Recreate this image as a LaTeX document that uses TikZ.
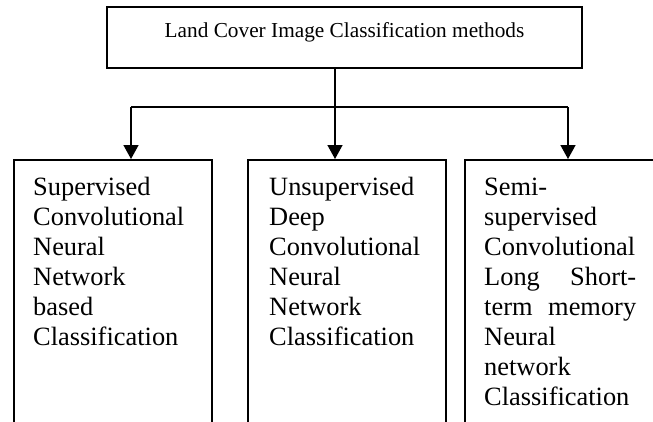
\documentclass[tikz,border=0pt]{standalone}
\usepackage{fontspec}
\setmainfont{Liberation Serif}
\usetikzlibrary{arrows.meta}

\begin{document}
\begin{tikzpicture}[x=1pt,y=-1pt,
  topbox/.style={draw,line width=1.5pt,minimum width=475pt,minimum height=61pt,
                 inner sep=0pt,text height=15pt,text depth=16pt,
                 font=\fontsize{21.3}{25}\selectfont},
  catbox/.style={draw,line width=1.5pt,anchor=north west,minimum width=198pt,
                 minimum height=280pt,inner sep=0pt},
  cattext/.style={anchor=base west,inner sep=0pt,text width=152pt,align=left,
                  font=\fontsize{26.4}{30}\selectfont},
  arr/.style={-{Triangle[length=14pt,width=15pt]},line width=1.5pt},
  conn/.style={line width=1.5pt}
]
\clip (0,0) rectangle (653,421);

% Top block
\node[topbox] (top) at (344.5,37.5) {Land Cover Image Classification methods};

% Category blocks, cut off at the lower edge
\node[catbox] (sup)  at (13,159)  {};
\node[catbox] (uns)  at (247,159) {};
\node[catbox] (semi) at (464,159) {};

\node[cattext] (suptxt)  at (33,195)  {Supervised\\Convolutional\\Neural\\Network\\based\\Classification};
\node[cattext] (unstxt)  at (269,195) {Unsupervised\\Deep\\Convolutional\\Neural\\Network\\Classification};
\node[cattext] (semitxt) at (484,195) {Semi-\\supervised\\Convolutional\\Long\hfill Short-\\term\hfill memory\\Neural\\network\\Classification};

% Branching
\coordinate (hub)    at (335,107);
\coordinate (splitl) at (131,107);
\coordinate (splitr) at (568,107);

% Arrows
\draw[conn] (splitl) -- (splitr);
\draw[arr] (top.south -| hub) -- (hub |- uns.north);
\draw[arr] (splitl) -- (splitl |- sup.north);
\draw[arr] (splitr) -- (splitr |- semi.north);

\end{tikzpicture}
\end{document}
